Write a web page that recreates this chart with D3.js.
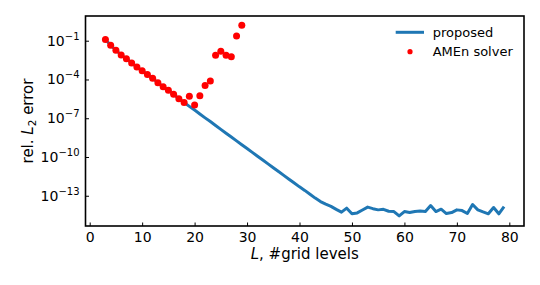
<!DOCTYPE html>
<html>
<head>
<meta charset="utf-8">
<script src="https://cdn.jsdelivr.net/npm/d3@7"></script>
<style>
  body { margin: 0; background: white; }
  text { font-family: 'DejaVu Sans', sans-serif; fill: black; }
</style>
</head>
<body>
<svg id="chart" width="540" height="285"></svg>
<script>

// number of grid levels L for each series
var levelsProposed = d3.range(3, 80);
var levelsAmen = d3.range(3, 30);

// relative L2 error
var errorProposed = [
  1.23e-1, 4.4e-2, 1.86e-2, 7.8e-3, 4.1e-3, 1.9e-3, 9.3e-4, 4.7e-4, 2.45e-4, 1.23e-4,
  5.6e-5, 2.75e-5, 1.48e-5, 7.2e-6, 3.2e-6, 1.66e-6, 8.3e-7, 4.27e-7, 2.14e-7, 1.07e-7,
  5.5e-8, 2.75e-8, 1.38e-8, 6.9e-9, 3.55e-9, 1.78e-9, 8.9e-10, 4.57e-10, 2.29e-10, 1.15e-10,
  5.9e-11, 2.95e-11, 1.48e-11, 7.6e-12, 3.8e-12, 1.9e-12, 9.8e-13, 4.9e-13, 2.6e-13, 1.32e-13,
  6.6e-14, 3.55e-14, 2.24e-14, 1.51e-14, 8.9e-15, 5.4e-15, 1.1e-14, 4.0e-15, 4.7e-15, 7.9e-15,
  1.32e-14, 1.0e-14, 8.1e-15, 8.9e-15, 6.3e-15, 6.0e-15, 2.75e-15, 6.0e-15, 5.0e-15, 6.0e-15,
  6.5e-15, 6.0e-15, 1.74e-14, 6.0e-15, 9.1e-15, 4.2e-15, 5.0e-15, 8.1e-15, 7.1e-15, 4.2e-15,
  2.1e-14, 8.1e-15, 5.6e-15, 4.0e-15, 1.23e-14, 4.0e-15, 1.45e-14
];

var errorAmen = [
  1.23e-1, 4.4e-2, 1.86e-2, 7.8e-3, 4.1e-3, 1.9e-3, 9.3e-4, 4.7e-4, 2.45e-4, 1.23e-4,
  5.6e-5, 2.75e-5, 1.48e-5, 7.2e-6, 3.2e-6, 1.66e-6, 5.1e-6, 1.07e-6, 5.5e-6, 3.4e-5,
  7.6e-5, 7.4e-3, 1.5e-2, 7.4e-3, 5.75e-3, 2.3e-1, 1.55
];

var xTicks = [0, 10, 20, 30, 40, 50, 60, 70, 80];
var yTickExp = [-1, -4, -7, -10, -13];

var legendNames = ["proposed", "AMEn solver"];

var margin = {left: 85.5, right: 16, top: 16, bottom: 59};
var W = 540, H = 285;

var svg = d3.select("#chart");

var x = d3.scaleLinear().domain([-0.8, 82.8]).range([margin.left, W - margin.right]);
var y = d3.scaleLog().domain([Math.pow(10, -15.34), Math.pow(10, 0.912)]).range([H - margin.bottom, margin.top]);

// proposed line
var line = d3.line()
  .x(function(d, i) { return x(levelsProposed[i]); })
  .y(function(d) { return y(d); });

svg.append("path")
  .datum(errorProposed)
  .attr("d", line)
  .attr("fill", "none")
  .attr("stroke", "#1f77b4")
  .attr("stroke-width", 3)
  .attr("stroke-linejoin", "round");

// AMEn dots
svg.selectAll(".amen")
  .data(errorAmen)
  .enter()
  .append("circle")
  .attr("class", "amen")
  .attr("cx", function(d, i) { return x(levelsAmen[i]); })
  .attr("cy", function(d) { return y(d); })
  .attr("r", 3.5)
  .attr("fill", "red");

// axes, ticks pointing inward
var xAxis = d3.axisBottom(x).tickValues(xTicks).tickSizeInner(-3.5).tickSizeOuter(0).tickPadding(8);
var gx = svg.append("g").attr("transform", "translate(0," + (H - margin.bottom) + ")").call(xAxis);
gx.select(".domain").remove();
gx.selectAll("line").attr("stroke", "black").attr("stroke-width", 1);
gx.selectAll("text").style("font-size", "14px").attr("dy", "0.71em").attr("y", 6);

var yAxis = d3.axisLeft(y).tickValues(yTickExp.map(function(e) { return Math.pow(10, e); }))
  .tickSizeInner(-3.5).tickSizeOuter(0).tickFormat("");
var gy = svg.append("g").attr("transform", "translate(" + margin.left + ",0)").call(yAxis);
gy.select(".domain").remove();
gy.selectAll("line").attr("stroke", "black").attr("stroke-width", 1);

yTickExp.forEach(function(e) {
  var t = svg.append("text")
    .attr("x", margin.left - 6)
    .attr("y", y(Math.pow(10, e)) + 5)
    .attr("text-anchor", "end")
    .style("font-size", "14px");
  t.append("tspan").text("10");
  t.append("tspan").attr("dy", -6).style("font-size", "10px").text("\u2212" + Math.abs(e));
});

// frame
svg.append("rect")
  .attr("x", margin.left).attr("y", margin.top)
  .attr("width", W - margin.left - margin.right)
  .attr("height", H - margin.top - margin.bottom)
  .attr("fill", "none").attr("stroke", "black").attr("stroke-width", 1.6);

// axis labels
var xl = svg.append("text")
  .attr("x", (margin.left + W - margin.right) / 2)
  .attr("y", 259)
  .attr("text-anchor", "middle")
  .style("font-size", "15px");
xl.append("tspan").style("font-style", "italic").text("L");
xl.append("tspan").text(", #grid levels");

var yl = svg.append("text")
  .attr("transform", "translate(33," + ((margin.top + H - margin.bottom) / 2) + ") rotate(-90)")
  .attr("text-anchor", "middle")
  .style("font-size", "15px");
yl.append("tspan").text("rel. ");
yl.append("tspan").style("font-style", "italic").text("L");
yl.append("tspan").attr("dy", 3).style("font-size", "10.5px").text("2");
yl.append("tspan").attr("dy", -3).text(" error");

// legend
var lg = svg.append("g");
lg.append("line")
  .attr("x1", 395.7).attr("x2", 424).attr("y1", 32.3).attr("y2", 32.3)
  .attr("stroke", "#1f77b4").attr("stroke-width", 3);
lg.append("circle").attr("cx", 410).attr("cy", 51.7).attr("r", 2.6).attr("fill", "red");
lg.selectAll(".lt")
  .data(legendNames)
  .enter()
  .append("text")
  .attr("class", "lt")
  .attr("x", 432.7)
  .attr("y", function(d, i) { return 32.3 + i * 19.4 + 4.7; })
  .style("font-size", "13px")
  .text(function(d) { return d; });

</script>
</body>
</html>
